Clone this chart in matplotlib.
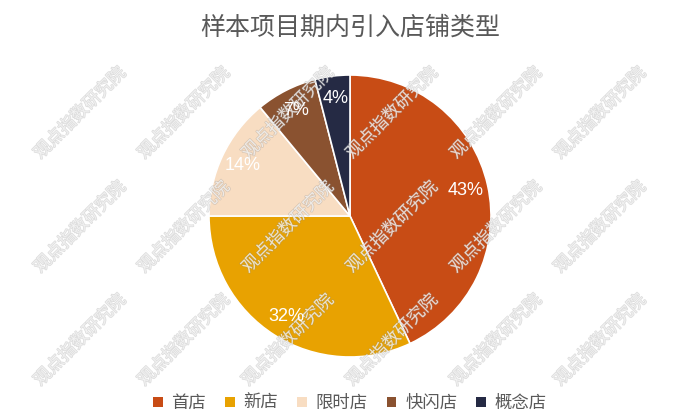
import matplotlib
matplotlib.use("Agg")
import matplotlib.pyplot as plt
import matplotlib.patheffects as pe

plt.rcParams['font.family'] = ['Noto Sans CJK SC', 'DejaVu Sans']

labels = ['首店', '新店', '限时店', '快闪店', '概念店']
values = [43, 32, 14, 7, 4]
colors = ['#C84C15', '#E8A201', '#F8DDC2', '#8A5230', '#252A44']
title = '样本项目期内引入店铺类型'
watermark = '观点指数研究院'

fig = plt.figure(figsize=(7, 4.2), dpi=100)
# pie centre ~ (350, 216) px, radius ~141 px
ax = fig.add_axes([(350 - 141) / 700, 1 - (216 + 141) / 420, 282 / 700, 282 / 420])

wedges, texts, autotexts = ax.pie(
    values, colors=colors, startangle=90, counterclock=False,
    autopct='%d%%', pctdistance=0.84, radius=1.0,
    wedgeprops=dict(edgecolor='white', linewidth=1.2),
    textprops=dict(color='white', fontsize=13,
                   family=['Liberation Sans', 'DejaVu Sans']))
ax.set_aspect('equal')
ax.set_xlim(-1.0, 1.0)
ax.set_ylim(-1.0, 1.0)

fig.text(0.5, 1 - 28 / 420, title, ha='center', va='center',
         fontsize=18, color='#595959')

leg = fig.legend(wedges, labels, loc='center', bbox_to_anchor=(0.5, 1 - 403 / 420),
                 ncol=5, frameon=False, fontsize=12.5, handlelength=0.55,
                 handleheight=0.55, handletextpad=0.5, columnspacing=1.1,
                 labelcolor='#595959')
for h in leg.legend_handles:
    h.set_edgecolor('none')

# watermark grid (drawn under the percentage labels)
for wy in [113, 227, 340]:
    for wx in [80, 184, 288, 392, 496, 600]:
        fig.text(wx / 700, 1 - wy / 420, watermark, ha='center', va='center',
                 rotation=45, fontsize=12.5, color=(1, 1, 1, 0.55),
                 path_effects=[pe.withStroke(linewidth=1.0,
                                             foreground=(0.55, 0.55, 0.55, 0.3))],
                 zorder=10)

for t in autotexts:
    fig.text(*fig.transFigure.inverted().transform(ax.transData.transform(t.get_position())),
             t.get_text(), ha='center', va='center', color='white', fontsize=13,
             family=['Liberation Sans', 'DejaVu Sans'], zorder=11)
    t.set_visible(False)

fig.savefig('out.png', dpi=100, facecolor='white')
